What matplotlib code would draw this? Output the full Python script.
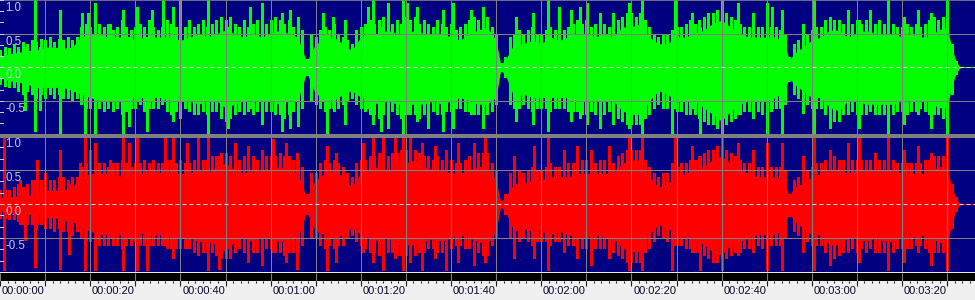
import numpy as np
import matplotlib
matplotlib.use("Agg")
import matplotlib.pyplot as plt
from matplotlib.patches import Rectangle

# ---------------- data (seconds / amplitude) ----------------
# dense body of each channel (upper / lower edge)
times = [0, 2, 4, 6, 8, 10, 12, 14, 16, 18, 20, 22, 24, 26, 28, 30, 32, 34, 36, 38,
         40, 42, 44, 46, 48, 50, 52, 54, 56, 58, 60, 62, 64, 66, 68, 70, 72, 74, 76, 78,
         80, 82, 84, 86, 88, 90, 92, 94, 96, 98, 100, 102, 104, 106, 108, 110, 111, 112, 114, 116,
         118, 120, 122, 124, 126, 128, 130, 132, 134, 136, 138, 140, 142, 144, 146, 148, 150, 152, 154, 156,
         158, 160, 162, 164, 166, 168, 170, 172, 174, 175, 176, 178, 180, 182, 184, 186, 188, 190, 192, 194,
         196, 198, 200, 202, 204, 206, 208, 210, 211, 212, 213, 214, 216]

green_core_up = [.15, .2, .22, .25, .25, .3, .3, .28, .3, .45, .5, .5, .45, .45, .45, .4, .45, .45, .45, .45,
                 .4, .45, .5, .45, .5, .55, .5, .45, .5, .45, .5, .55, .5, .45, .08, .35, .4, .45, .35, .25,
                 .45, .5, .5, .55, .5, .5, .55, .5, .5, .5, .45, .4, .5, .55, .6, .4, .05, .1, .35, .35,
                 .4, .35, .45, .4, .45, .5, .5, .45, .5, .45, .6, .6, .65, .45, .35, .35, .45, .45, .5, .55,
                 .65, .7, .6, .5, .45, .45, .45, .45, .35, .1, .2, .3, .4, .45, .55, .55, .45, .5, .55, .5,
                 .5, .5, .45, .5, .45, .45, .55, .6, .3, .08, 0, 0, 0]
green_core_dn = [-.15, -.2, -.22, -.25, -.3, -.3, -.3, -.3, -.35, -.4, -.45, -.5, -.5, -.5, -.5, -.45, -.45, -.45, -.45, -.5,
                 -.5, -.5, -.55, -.5, -.5, -.6, -.55, -.5, -.5, -.5, -.5, -.55, -.5, -.5, -.08, -.4, -.45, -.5, -.4, -.35,
                 -.45, -.5, -.55, -.5, -.55, -.55, -.55, -.55, -.5, -.55, -.5, -.45, -.5, -.55, -.55, -.45, -.05, -.1, -.45, -.4,
                 -.45, -.45, -.45, -.45, -.45, -.5, -.5, -.5, -.5, -.5, -.65, -.7, -.7, -.5, -.35, -.4, -.5, -.5, -.5, -.6,
                 -.7, -.8, -.65, -.55, -.5, -.5, -.5, -.45, -.35, -.15, -.25, -.35, -.45, -.45, -.6, -.65, -.5, -.5, -.55, -.55,
                 -.55, -.55, -.5, -.5, -.5, -.5, -.6, -.6, -.3, -.08, 0, 0, 0]
red_core_up = [.1, .1, .12, .12, .15, .2, .2, .2, .25, .4, .45, .45, .45, .4, .45, .45, .45, .5, .45, .45,
               .45, .45, .5, .45, .55, .6, .5, .45, .5, .5, .5, .55, .5, .45, .1, .35, .45, .5, .4, .25,
               .45, .5, .55, .5, .55, .6, .65, .55, .5, .5, .45, .45, .5, .55, .55, .35, .03, .1, .3, .3,
               .35, .35, .4, .4, .4, .45, .45, .45, .45, .45, .6, .65, .65, .4, .25, .3, .4, .45, .5, .55,
               .65, .7, .6, .5, .45, .4, .4, .4, .35, .1, .25, .3, .4, .45, .5, .5, .45, .5, .5, .5,
               .5, .5, .45, .45, .45, .45, .55, .55, .25, .08, 0, 0, 0]
red_core_dn = [-.1, -.12, -.12, -.15, -.15, -.2, -.2, -.25, -.25, -.35, -.4, -.45, -.45, -.45, -.45, -.4, -.45, -.45, -.45, -.5,
               -.5, -.5, -.55, -.55, -.6, -.7, -.55, -.5, -.55, -.5, -.5, -.55, -.55, -.5, -.12, -.4, -.45, -.5, -.45, -.35,
               -.45, -.5, -.55, -.5, -.6, -.6, -.6, -.55, -.5, -.55, -.5, -.45, -.5, -.55, -.6, -.4, -.04, -.1, -.4, -.35,
               -.4, -.4, -.45, -.4, -.45, -.5, -.5, -.45, -.5, -.5, -.65, -.7, -.7, -.45, -.3, -.35, -.45, -.5, -.5, -.6,
               -.7, -.75, -.6, -.55, -.5, -.45, -.45, -.45, -.35, -.12, -.25, -.35, -.45, -.45, -.6, -.6, -.5, -.5, -.55, -.5,
               -.55, -.55, -.5, -.5, -.45, -.5, -.55, -.6, -.3, -.08, 0, 0, 0]

# fringe of shorter peaks, one per second (0 .. 216 s), magnitudes
fringe_times = list(range(0, 217))
green_fringe_up = [.25, .3, .28, .35, .3, .38, .35, .4, .38, .42, .4, .45, .38, .42, .4, .45, .4, .45, .6, .65,
                   .6, .7, .65, .6, .65, .55, .6, .7, .6, .55, .6, .65, .6, .7, .6, .55, .6, .7, .65, .6,
                   .55, .6, .7, .6, .65, .7, .6, .65, .7, .75, .7, .75, .65, .6, .7, .6, .65, .7, .6, .65,
                   .7, .75, .7, .65, .7, .6, .65, .55, .12, .5, .45, .55, .6, .55, .65, .5, .45, .4, .35, .55,
                   .6, .65, .7, .65, .7, .75, .7, .65, .7, .65, .75, .7, .75, .65, .7, .65, .6, .7, .65, .6,
                   .65, .55, .6, .65, .7, .75, .7, .8, .75, .6, .5, .06, .15, .45, .5, .55, .5, .55, .6, .5,
                   .5, .55, .6, .55, .6, .55, .6, .65, .7, .65, .7, .6, .65, .7, .65, .6, .6, .7, .75, .8,
                   .8, .75, .8, .7, .6, .5, .45, .5, .5, .55, .6, .6, .65, .7, .65, .7, .75, .8, .8, .85,
                   .85, .8, .75, .7, .65, .6, .6, .65, .6, .6, .65, .6, .6, .55, .5, .15, .35, .4, .45, .5,
                   .55, .6, .6, .7, .75, .7, .7, .65, .6, .65, .7, .65, .7, .65, .65, .7, .65, .6, .65, .6,
                   .6, .65, .6, .65, .6, .65, .7, .75, .7, .75, .7, .35, .1, 0, 0, 0, 0]
green_fringe_dn = [.25, .28, .3, .3, .35, .4, .35, .4, .45, .4, .45, .4, .45, .4, .45, .45, .5, .45, .55, .6,
                   .6, .65, .6, .65, .6, .65, .6, .7, .65, .6, .6, .55, .65, .6, .6, .6, .55, .65, .7, .65,
                   .65, .6, .65, .7, .7, .65, .7, .65, .65, .75, .8, .75, .7, .65, .7, .65, .7, .65, .7, .65,
                   .65, .7, .7, .75, .7, .65, .7, .6, .12, .5, .55, .6, .65, .6, .65, .6, .55, .5, .45, .55,
                   .6, .65, .7, .7, .75, .7, .7, .65, .7, .75, .7, .7, .7, .75, .7, .65, .65, .7, .7, .65,
                   .65, .6, .6, .65, .65, .7, .7, .75, .7, .65, .55, .06, .15, .55, .6, .6, .55, .6, .65, .6,
                   .6, .6, .65, .6, .6, .6, .65, .65, .65, .7, .7, .65, .7, .7, .7, .65, .7, .75, .8, .85,
                   .85, .85, .85, .75, .7, .6, .55, .6, .6, .65, .65, .65, .7, .7, .7, .75, .8, .85, .85, .9,
                   .9, .85, .8, .75, .7, .65, .65, .7, .65, .7, .65, .65, .6, .6, .55, .2, .4, .45, .5, .55,
                   .6, .6, .6, .7, .8, .8, .8, .7, .65, .65, .7, .7, .7, .65, .7, .7, .7, .65, .7, .65,
                   .65, .7, .65, .65, .6, .65, .7, .7, .7, .75, .7, .4, .1, 0, 0, 0, 0]
red_fringe_up = [.2, .2, .2, .25, .3, .25, .3, .35, .3, .35, .45, .35, .35, .4, .4, .35, .4, .4, .55, .6,
                 .6, .65, .6, .6, .55, .6, .6, .65, .6, .55, .6, .6, .65, .6, .65, .6, .6, .65, .65, .6,
                 .65, .6, .6, .65, .7, .65, .65, .7, .7, .75, .75, .7, .65, .65, .7, .65, .7, .65, .65, .7,
                 .7, .7, .75, .7, .7, .65, .65, .55, .15, .45, .45, .6, .65, .6, .65, .6, .55, .45, .4, .6,
                 .65, .65, .7, .7, .75, .7, .7, .75, .75, .8, .8, .8, .8, .75, .7, .7, .65, .7, .65, .65,
                 .65, .6, .6, .65, .7, .7, .75, .75, .75, .6, .5, .05, .15, .45, .5, .5, .45, .5, .55, .5,
                 .5, .55, .6, .55, .55, .55, .6, .6, .6, .65, .65, .6, .6, .65, .65, .6, .6, .7, .75, .8,
                 .8, .8, .8, .65, .55, .45, .4, .45, .45, .5, .55, .6, .6, .65, .65, .7, .75, .8, .8, .85,
                 .85, .8, .75, .7, .65, .6, .6, .6, .55, .55, .6, .55, .55, .55, .5, .15, .35, .4, .45, .5,
                 .55, .6, .6, .65, .7, .7, .65, .65, .6, .65, .65, .65, .65, .65, .6, .65, .65, .6, .65, .6,
                 .6, .6, .6, .6, .6, .65, .65, .7, .7, .7, .7, .3, .1, 0, 0, 0, 0]
red_fringe_dn = [.2, .2, .22, .22, .25, .3, .3, .3, .35, .3, .35, .35, .4, .35, .4, .4, .45, .4, .5, .55,
                 .55, .6, .6, .6, .6, .6, .6, .65, .6, .6, .55, .6, .6, .6, .6, .6, .6, .65, .65, .65,
                 .65, .65, .65, .7, .7, .7, .7, .7, .75, .8, .8, .8, .7, .65, .7, .65, .7, .7, .7, .65,
                 .65, .7, .7, .75, .7, .7, .7, .6, .15, .5, .5, .6, .65, .6, .65, .6, .6, .5, .45, .55,
                 .6, .65, .7, .7, .75, .7, .7, .7, .75, .75, .75, .75, .75, .7, .7, .65, .65, .7, .7, .65,
                 .65, .6, .6, .65, .65, .7, .7, .75, .75, .6, .5, .05, .15, .5, .55, .55, .5, .55, .6, .55,
                 .55, .55, .6, .55, .55, .6, .6, .6, .65, .65, .65, .6, .65, .65, .65, .65, .7, .75, .8, .85,
                 .85, .85, .85, .7, .65, .55, .45, .5, .55, .6, .6, .6, .65, .65, .7, .7, .75, .8, .85, .85,
                 .85, .8, .75, .7, .7, .65, .65, .65, .6, .65, .65, .6, .6, .6, .5, .18, .4, .45, .5, .55,
                 .6, .6, .6, .7, .75, .8, .75, .7, .65, .65, .7, .65, .7, .65, .65, .7, .7, .65, .7, .65,
                 .65, .65, .65, .6, .6, .65, .7, .7, .7, .7, .7, .35, .1, 0, 0, 0, 0]

# tall isolated peaks: time, upper reach, lower reach
green_spike_t = [5.5, 7.8, 8.9, 13.3, 18.1, 18.8, 19.6, 21.1, 24.4, 27.3, 28.5, 30.3, 32.5, 33.6, 36.2, 38.4,
                 39.9, 46.2, 50.5, 55.5, 58.2, 62.5, 64.3, 66.1, 71.7, 72.4, 73.9, 76.5, 81.7, 82.8, 84.5, 86.1,
                 89.4, 90.3, 92.5, 94.8, 98.2, 100.5, 104.5, 107.2, 114.5, 118.2, 121.6, 124.0, 126.5, 128.5, 130.2,
                 133.0, 136.0, 139.5, 142.3, 148.9, 149.7, 153.4, 155.2, 160.0, 163.7, 167.0, 170.0, 171.1, 173.3,
                 178.1, 180.5, 184.0, 188.0, 190.5, 193.0, 197.0, 200.5, 203.5, 206.5, 209.9]
green_spike_up = [.3, 1.0, .3, .85, .8, .4, .8, .95, .65, .85, .45, .9, .45, .85, 1.0, .9,
                  1.0, 1.0, .6, .9, .95, .8, .85, .75, .8, .5, .75, .7, .9, 1.0, .6, .95,
                  1.0, .95, .9, .6, .85, .95, .85, .9, .75, .8, 1.0, .9, .85, .9, .95,
                  .8, .8, .95, 1.0, .5, 1.0, .8, .6, 1.0, .95, .8, .95, .9, .85,
                  .65, 1.0, .75, .85, .7, .85, 1.0, .75, .85, .8, 1.0]
green_spike_dn = [-.63, -.95, -.63, -1.0, -.4, -1.0, -.4, -1.0, -.5, -1.0, -.88, -.5, -.95, -.5, -.5, -.8,
                  -.75, -1.0, -.9, -.6, -.85, -.95, -.9, -.88, -.5, -1.0, -.6, -.85, -.6, -.85, -.95, -.9,
                  -1.0, -.7, -.8, -.9, -.95, -.9, -.7, -.9, -.8, -.85, -.95, -.6, -.8, -.75, -.85,
                  -.9, -.85, -.9, -1.0, -1.0, -.6, -.6, -1.0, -1.0, -.7, -.75, -1.0, -.6, -1.0,
                  -.68, -1.0, -.9, -.7, -.9, -.6, -1.0, -.85, -.7, -.9, -1.0]
red_spike_t = [0.9, 4.5, 5.5, 7.8, 8.2, 13.3, 15.2, 17.8, 18.8, 20.0, 21.1, 24.4, 27.3, 28.5, 30.3, 32.5,
               34.0, 36.5, 38.4, 41.5, 44.0, 46.2, 48.5, 52.0, 55.0, 58.0, 60.5, 63.5, 65.8, 72.4, 74.5, 80.5,
               82.8, 85.0, 87.5, 89.4, 91.0, 93.5, 96.5, 99.0, 101.5, 105.0, 107.5, 114.0, 118.5, 121.6, 125.0,
               128.0, 131.0, 135.0, 139.5, 142.3, 148.9, 149.7, 153.4, 155.2, 160.0, 163.7, 167.0, 170.0, 173.3,
               178.1, 180.5, 184.0, 188.0, 190.5, 194.0, 197.0, 200.5, 203.5, 206.5, 209.9]
red_spike_up = [.97, .35, .2, .35, .65, .8, .3, .6, .97, .8, .9, .65, .97, .9, .97, .5,
                .65, .97, .97, .9, .97, .97, .7, .9, .85, .8, .95, .9, .75, .85, .75, .9,
                .97, .97, .97, .97, .97, .9, .85, .8, .9, .9, .97, .7, .85, .97, .8,
                .85, .8, .85, .97, .97, .6, .97, .85, .7, .97, .9, .8, .9, .9,
                .7, .97, .8, .9, .97, .75, .97, .8, .85, .75, .97]
red_spike_dn = [-.97, -.3, -.53, -.92, -.3, -.95, -.73, -.3, -.97, -.5, -.97, -.5, -.97, -.5, -.97, -.97,
                -.5, -.6, -.8, -.65, -.75, -.97, -.95, -.7, -.85, -.9, -.7, -.85, -.95, -.97, -.85, -.7,
                -.85, -.97, -.8, -.97, -.85, -.97, -.8, -.97, -.85, -.9, -.85, -.8, -.8, -.97, -.7,
                -.8, -.9, -.8, -.97, -.97, -.97, -.6, -.7, -.97, -.97, -.75, -.7, -.97, -.97,
                -.7, -.97, -.9, -.7, -.85, -.7, -.97, -.85, -.7, -.9, -.97]

tick_seconds = [0, 20, 40, 60, 80, 100, 120, 140, 160, 180, 200]
tick_labels = ["00:00:00", "00:00:20", "00:00:40", "00:01:00", "00:01:20", "00:01:40",
               "00:02:00", "00:02:20", "00:02:40", "00:03:00", "00:03:20"]
amp_ticks = [1.0, 0.5, 0.0, -0.5]
amp_labels = ["1.0", "0.5", "0.0", "-0.5"]

for arr in (green_core_up, green_core_dn, red_core_up, red_core_dn):
    assert len(arr) == len(times), len(arr)
for arr in (green_fringe_up, green_fringe_dn, red_fringe_up, red_fringe_dn):
    assert len(arr) == len(fringe_times), len(arr)
assert len(green_spike_t) == len(green_spike_up) == len(green_spike_dn)
assert len(red_spike_t) == len(red_spike_up) == len(red_spike_dn)

# ---------------- layout ----------------
W, H = 975, 300
PX_PER_S = 4.51
XMAX = W / PX_PER_S
NAVY = "#000080"
GRID = "#808080"
FONT = ["Liberation Sans", "DejaVu Sans"]

fig = plt.figure(figsize=(W / 100, H / 100), dpi=100, facecolor="#f0f0f0")

def fy(px):  # pixel from top -> figure fraction
    return 1 - px / H

fig.patches.append(Rectangle((0, fy(138)), 1, (138 - 133.5) / H, transform=fig.transFigure,
                             facecolor="#808080", edgecolor="none", zorder=0))

def channel(ax, core_up, core_dn, fr_up, fr_dn, sp_t, sp_up, sp_dn, color):
    ax.set_facecolor(NAVY)
    ax.axhline(0, color=color, lw=0.8, zorder=1)
    ax.fill_between(np.array(times, float), core_dn, core_up, color=color, lw=0,
                    antialiased=False, zorder=2)
    ax.vlines(fringe_times, -np.array(fr_dn), fr_up, color=color, lw=1.0,
              antialiased=False, zorder=2)
    ax.vlines(sp_t, sp_dn, sp_up, color=color, lw=0.75, antialiased=False, zorder=2)
    ax.set_xlim(0, XMAX)
    for s in np.arange(10, XMAX, 10):
        ax.axvline(s, color=GRID, lw=0.75, zorder=3)
    for a in (0.5, -0.5):
        ax.axhline(a, color=GRID, lw=0.75, zorder=3)
    ax.axhline(0, color="#d8d8d8", lw=0.72, ls=(0, (4, 3)), zorder=4)
    for a, lab in zip(amp_ticks, amp_labels):
        ax.annotate(lab, xy=(0, a), xycoords=("axes fraction", "data"), xytext=(5, -2),
                    textcoords="offset pixels", ha="left", va="top", color="#c8c8e4",
                    fontsize=8.3, family=FONT, zorder=5)
    for a in np.arange(-1, 1.01, 1 / 6):
        ax.plot([0, 2.5 / PX_PER_S], [a, a], color="#c8c8e4", lw=0.75, zorder=5)
    ax.set_xticks([])
    ax.set_yticks([])
    for sp in ax.spines.values():
        sp.set_visible(False)

ax1 = fig.add_axes([0, fy(134.5), 1, 134.5 / H])
channel(ax1, green_core_up, green_core_dn, green_fringe_up, green_fringe_dn,
        green_spike_t, green_spike_up, green_spike_dn, "#00ff00")
ax1.set_ylim(-1.0, 1.0)
ax1.axhline(1.0, color=GRID, lw=1.2, zorder=3)

ax2 = fig.add_axes([0, fy(272), 1, 134 / H])
channel(ax2, red_core_up, red_core_dn, red_fringe_up, red_fringe_dn,
        red_spike_t, red_spike_up, red_spike_dn, "#ff0000")
ax2.set_ylim(-1.0, 0.97)

# ---------------- time ruler ----------------
axr = fig.add_axes([0, 0, 1, 28 / H])
axr.set_xlim(0, XMAX)
axr.set_ylim(28, 0)
axr.set_facecolor("#f0f0f0")
axr.axhspan(0, 1.2, color="#e8e8e8", lw=0)
axr.axhspan(1.2, 9, color="#000000", lw=0)
major = np.arange(0, XMAX, 10)
minor = np.arange(0, XMAX, 10 / 6)
axr.vlines(major, 1.2, 9, color=GRID, lw=0.8)
axr.vlines(major, 9, 14, color="#202020", lw=0.8)
axr.vlines(minor, 9, 10.5, color="#202020", lw=0.8)
for s, lab in zip(tick_seconds, tick_labels):
    axr.text(s + 0.4, 14.3, lab, ha="left", va="top", fontsize=8, family=FONT, color="#0a0a30")
axr.set_xticks([])
axr.set_yticks([])
for sp in axr.spines.values():
    sp.set_visible(False)

fig.savefig("out.png", dpi=100, facecolor=fig.get_facecolor())
